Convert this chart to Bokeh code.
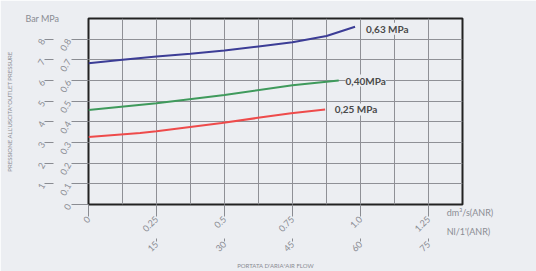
import math
from bokeh.plotting import figure
from bokeh.models import LinearAxis, FixedTicker, Label, Range1d, Grid
from bokeh.embed import file_html
from bokeh.resources import INLINE

# Data (flow in dm3/s, pressure in MPa)
blue_x = [0, 0.125, 0.25, 0.375, 0.5, 0.625, 0.75, 0.875, 0.98]
blue_y = [0.683, 0.70, 0.716, 0.73, 0.745, 0.765, 0.785, 0.815, 0.86]
green_x = [0, 0.25, 0.5, 0.75, 0.92]
green_y = [0.457, 0.49, 0.53, 0.577, 0.60]
red_x = [0, 0.19, 0.25, 0.49, 0.616, 0.745, 0.87]
red_y = [0.327, 0.346, 0.355, 0.394, 0.418, 0.442, 0.46]

series_names = ["0,63 MPa", "0,40MPa", "0,25 MPa"]

mpa_ticks = [0, 0.1, 0.2, 0.3, 0.4, 0.5, 0.6, 0.7, 0.8]
mpa_labels = ["0", "0.1", "0.2", "0.3", "0.4", "0.5", "0.6", "0.7", "0.8"]
bar_ticks = [0.1, 0.2, 0.3, 0.4, 0.5, 0.6, 0.7, 0.8]
bar_labels = ["1", "2", "3", "4", "5", "6", "7", "8"]
flow_ticks = [0, 0.25, 0.5, 0.75, 1.0, 1.25]
flow_labels = ["0", "0.25", "0.5", "0.75", "1.0", "1.25"]
nl_ticks = [0.25, 0.5, 0.75, 1.0, 1.25]
nl_labels = ["15", "30", "45", "60", "75"]
grid_x = [i * 0.125 for i in range(1, 11)]
grid_y = [round(i * 0.1, 1) for i in range(1, 9)]

BG = "#eceef2"
GRAY = "#8a8c92"
GRID = "#8f9096"
FONT = "Lato"

p = figure(width=536, height=271, output_backend="svg", toolbar_location=None,
           x_range=Range1d(0, 1.375), y_range=Range1d(0, 0.9),
           min_border_left=88, min_border_right=74, min_border_top=18, min_border_bottom=66)
p.background_fill_color = BG
p.border_fill_color = BG
p.outline_line_color = "#222222"
p.outline_line_width = 2
p.xgrid.visible = False
p.ygrid.visible = False
p.add_layout(Grid(dimension=0, ticker=FixedTicker(ticks=grid_x),
                  grid_line_color=GRID, grid_line_width=1))
p.add_layout(Grid(dimension=1, ticker=FixedTicker(ticks=grid_y),
                  grid_line_color=GRID, grid_line_width=1))

def style_axis(ax, ticks, labels, tick_out, orient, standoff=1, size="9px"):
    ax.ticker = FixedTicker(ticks=ticks)
    ax.major_label_overrides = {t: l for t, l in zip(ticks, labels)}
    ax.axis_line_color = None
    ax.major_tick_line_color = GRAY
    ax.major_tick_out = tick_out
    ax.major_tick_in = 0
    ax.minor_tick_line_color = None
    ax.major_label_text_color = GRAY
    ax.major_label_text_font = FONT
    ax.major_label_text_font_size = size
    ax.major_label_orientation = orient
    ax.major_label_standoff = standoff

# MPa axis (default left)
style_axis(p.yaxis[0], mpa_ticks, mpa_labels, 17, math.pi / 3, standoff=3)
# Bar axis
bar_ax = LinearAxis()
style_axis(bar_ax, bar_ticks, bar_labels, 9, math.pi / 3, standoff=2)
bar_ax.axis_label = "PRESSIONE ALL'USCITA*OUTLET PRESSURE"
bar_ax.axis_label_text_font_size = "6px"
bar_ax.axis_label_text_font = FONT
bar_ax.axis_label_text_font_style = "normal"
bar_ax.axis_label_text_color = GRAY
bar_ax.axis_label_standoff = 18
p.add_layout(bar_ax, "left")

# Flow axes
style_axis(p.xaxis[0], flow_ticks, flow_labels, 12, math.pi / 4)
nl_ax = LinearAxis()
style_axis(nl_ax, nl_ticks, nl_labels, 3, math.pi / 4)
nl_ax.axis_label = "PORTATA D'ARIA*AIR FLOW"
nl_ax.axis_label_text_font_size = "6px"
nl_ax.axis_label_text_font = FONT
nl_ax.axis_label_text_font_style = "normal"
nl_ax.axis_label_text_color = GRAY
nl_ax.axis_label_standoff = 4
p.add_layout(nl_ax, "below")

p.line(blue_x, blue_y, line_color="#3c3d96", line_width=2)
p.line(green_x, green_y, line_color="#3f9a5c", line_width=2)
p.line(red_x, red_y, line_color="#ee4b4b", line_width=2)

def curve_label(x, y, text):
    p.add_layout(Label(x=x, y=y, text=text, text_font=FONT, text_font_style="bold",
                       text_font_size="10px", text_color="#4a4a4a", text_baseline="middle",
                       background_fill_color=BG))

curve_label(blue_x[-1] + 0.04, 0.85, series_names[0])
curve_label(green_x[-1] + 0.025, green_y[-1], series_names[1])
curve_label(red_x[-1] + 0.035, red_y[-1], series_names[2])

# texts outside the frame live in side panels (so they are not clipped)
p.add_layout(Label(x=-0.232, y=0.90, text="Bar MPa", text_font=FONT, text_font_size="9px",
                   text_color=GRAY, text_baseline="middle"), "above")
p.add_layout(Label(x=1.317, y=-0.012, text="dm\u00b3/s(ANR)\nNl/1'(ANR)", text_font=FONT,
                   text_font_size="9px", text_color=GRAY, text_baseline="top",
                   text_line_height=1.75), "right")

open("out.html", "w").write(file_html(p, INLINE))
